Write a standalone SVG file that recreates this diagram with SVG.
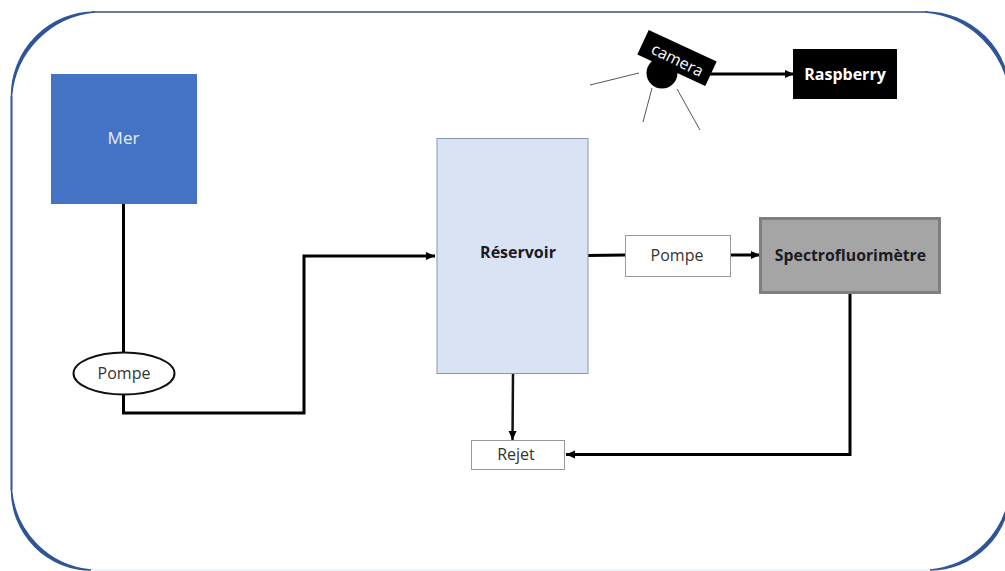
<svg xmlns="http://www.w3.org/2000/svg" width="1005" height="571" viewBox="0 0 1005 571">
<style>
text{font-family:"Open Sans","Noto Sans",sans-serif;font-size:16px;text-anchor:middle;fill:#333}
.b{font-weight:700;fill:#1a1a22}
.w{fill:#fff}
.c{fill:none;stroke:#000;stroke-width:3}
.t{fill:none;stroke:#111;stroke-width:2.5}
.r{fill:none;stroke:#555;stroke-width:1}
.f{fill:#2f5597;stroke:#2f5597;stroke-width:1.5}
</style>
<defs>
<marker id="a" markerUnits="userSpaceOnUse" markerWidth="10" markerHeight="10" refX="9" refY="5" orient="auto"><path d="M0 1L9 5L0 9Z" fill="#000"/></marker>
</defs>
<rect width="1005" height="571" fill="#fff"/>
<g id="frame">
<path d="M95 12H925" fill="none" stroke="#3b5280" stroke-width="1.500"/>
<path class="f" d="M11.500 96A84 84 0 0 1 95 12A92 92 0 0 0 11.500 96Z"/>
<path class="f" d="M925 12A85 85 0 0 1 1010 97A93 93 0 0 0 925 12Z"/>
<path d="M11.500 96V490" fill="none" stroke="#2f5597" stroke-width="2"/>
<path class="f" d="M11.500 490A80 80 0 0 0 91 570A88 88 0 0 1 11.500 490Z"/>
<path class="f" d="M1010 490A80 80 0 0 1 930 570A88 88 0 0 0 1010 490Z"/>
<path d="M91 570H930" fill="none" stroke="#e4f2f6" stroke-width="1.500"/>
</g>
<g id="connectors">
<path class="c" d="M123.500 203V354"/>
<path class="c" d="M123.500 394V413H304V256H435" marker-end="url(#a)"/>
<path class="c" d="M588 255.500L625 255"/>
<path class="c" d="M731 255H760" marker-end="url(#a)"/>
<path class="t" d="M513 373L512.500 440" marker-end="url(#a)"/>
<path class="c" d="M850 293V454.500H566" marker-end="url(#a)"/>
<path class="c" d="M709 74H794" marker-end="url(#a)"/>
<path class="r" d="M590 85L639 73"/>
<path class="r" d="M652 88L643 122"/>
<path class="r" d="M677 89L700 130"/>
</g>
<g id="mer">
<rect x="51" y="74" width="146" height="130" fill="#4472c4"/>
<text x="123.500" y="144" fill="#e8eefa" style="fill:#e8eefa;font-size:17px">Mer</text>
</g>
<g id="pompe-1">
<ellipse cx="124" cy="373.500" rx="50.500" ry="21" fill="#fff" stroke="#111" stroke-width="2"/>
<text x="124" y="379">Pompe</text>
</g>
<g id="reservoir">
<rect x="437" y="138.500" width="151" height="235" fill="#dae3f3" stroke="#8496b0" stroke-width="1"/>
<text class="b" x="518" y="258">Réservoir</text>
</g>
<g id="pompe-2">
<rect x="625.500" y="235.500" width="105" height="41" fill="#fff" stroke="#999" stroke-width="1"/>
<text x="677" y="261">Pompe</text>
</g>
<g id="spectrofluorimetre">
<rect x="760.500" y="218.500" width="179" height="74" fill="#a5a5a5" stroke="#7f7f7f" stroke-width="3"/>
<text class="b" x="850.500" y="261" style="font-size:15.800px">Spectrofluorimètre</text>
</g>
<g id="rejet">
<rect x="471.500" y="440.500" width="93" height="29" fill="#fff" stroke="#999" stroke-width="1"/>
<text x="516" y="460">Rejet</text>
</g>
<g id="lamp">
<circle cx="662" cy="73" r="15.500" fill="#000"/>
</g>
<g id="camera">
<rect x="-37.500" y="-13.500" width="75" height="27" fill="#000" transform="translate(677 58) rotate(25)"/>
<text class="w" transform="translate(675 65) rotate(26)">camera</text>
</g>
<g id="raspberry">
<rect x="793" y="49" width="104" height="50" fill="#000"/>
<text class="w" style="font-weight:700" x="845" y="80">Raspberry</text>
</g>
</svg>
